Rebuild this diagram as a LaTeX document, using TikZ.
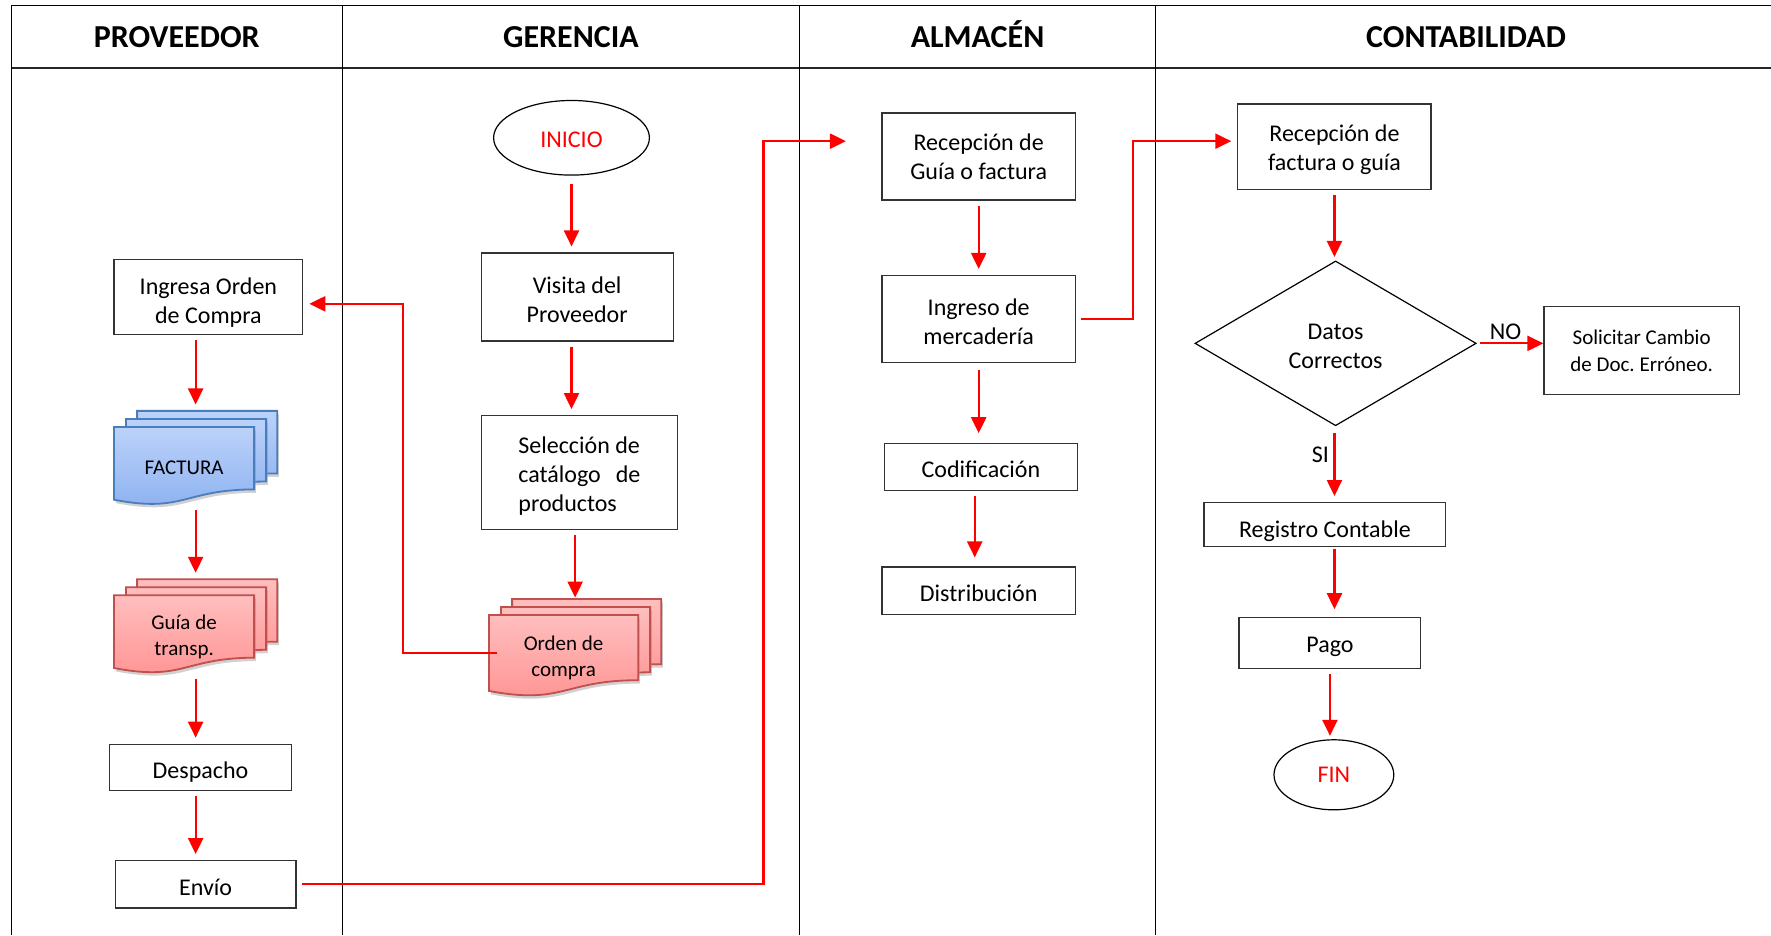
\documentclass[tikz,border=0pt]{standalone}
\usepackage{fontspec}
\setmainfont{Carlito}
\usetikzlibrary{arrows.meta,shapes.geometric,fit}
\frenchspacing

\definecolor{flowred}{RGB}{255,0,0}
\definecolor{bluline}{RGB}{74,126,187}
\definecolor{blutop}{RGB}{188,210,250}
\definecolor{blubot}{RGB}{138,176,240}
\definecolor{rosline}{RGB}{192,80,77}
\definecolor{rostop}{RGB}{255,190,190}
\definecolor{rosbot}{RGB}{255,146,146}

% outline of a single document sheet with a wavy lower edge
\newcommand\docpath[4]{({#1},{#2}) -- ({#1+#3},{#2}) -- ({#1+#3},{#2+0.802*#4})
  .. controls ({#1+0.5*#3},{#2+0.802*#4}) and ({#1+0.5*#3},{#2+1.108*#4}) .. ({#1},{#2+0.934*#4}) -- cycle}

% stack of three sheets: name, x, y (front sheet top-left), width, height, colour prefix, text
\newcommand\docstack[7]{%
  \foreach \dx/\dy in {20.4/14.2,10.6/7,0/0}{%
    \fill[black!40,opacity=.45] \docpath{#2+\dx+1.5}{#3-\dy+3}{#4}{#5};
    \path[draw=#6line,line width=.9pt,top color=#6top,bottom color=#6bot] \docpath{#2+\dx}{#3-\dy}{#4}{#5};
  }
  \node[fit={({#2},{#3-14.2}) ({#2+#4+20.4},{#3+#5})},inner sep=0pt] (#1) {};
  \node[doctext] (#1-text) at ({#2+0.5*#4},{#3+0.5*#5+2}) {#7};
}

% a strut at the start of a label lowers the text a little inside its frame
\newcommand\lowerby[1]{\rule{0pt}{#1}}

\tikzset{
  lane/.style={draw=black,line width=0.7pt},
  head/.style={anchor=base,font=\fontsize{16}{19}\selectfont\bfseries},
  box/.style={draw=black!80,line width=0.6pt,align=center,inner sep=0pt,
    font=\fontsize{12}{14.6}\selectfont,execute at begin node={\lowerby{11pt}}},
  term/.style={ellipse,draw=black,line width=0.6pt,inner sep=0pt,text=flowred,
    font=\fontsize{12}{14.6}\selectfont},
  decision/.style={diamond,draw=black,line width=0.6pt,inner sep=0pt,align=center,
    font=\fontsize{12}{14.6}\selectfont},
  doctext/.style={align=center,inner sep=0pt,font=\fontsize{10.5}{13}\selectfont},
  lbl/.style={inner sep=0pt,font=\fontsize{12}{14.6}\selectfont},
  arr/.style={draw=flowred,line width=1.1pt,-{Triangle[length=8pt,width=7.5pt]},
    shorten <=2.5pt,shorten >=3pt},
}

\begin{document}
\begin{tikzpicture}[x=0.5647pt,y=-0.5647pt]
\useasboundingbox (0,0) rectangle (1568,828);
\fill[white] (0,0) rectangle (1568,828);

% lanes and header row
\draw[lane] (10,5) -- (1568,5);
\draw[lane,line width=1.1pt,draw=black!85] (10,60) -- (1568,60);
\foreach \lx in {10,303,708,1023} \draw[lane] (\lx,5) -- (\lx,828);
\node[head] (hprov) at (156.5,42.5) {PROVEEDOR};
\node[head] (hger)  at (505.5,42.5) {GERENCIA};
\node[head] (halm)  at (865.5,42.5) {ALMACÉN};
\node[head] (hcont) at (1298,42.5) {CONTABILIDAD};

% PROVEEDOR
\node[box,minimum width=94.3pt,minimum height=37.3pt] (ingresa) at (184.5,263) {\lowerby{13.5pt}Ingresa Orden\\de Compra};
\docstack{factura}{101}{378}{124}{69}{blu}{FACTURA}
\docstack{guia}{101}{527}{124}{69}{ros}{Guía de\\transp.}
\node[box,minimum width=90.9pt,minimum height=23.2pt,execute at begin node={\lowerby{12.8pt}}] (despacho) at (177.5,679.5) {Despacho};
\node[box,minimum width=90.4pt,minimum height=23.7pt] (envio) at (182,783) {Envío};

% GERENCIA
\node[term,minimum width=77.9pt,minimum height=37.3pt,execute at begin node={\lowerby{10pt}}] (inicio) at (506,122) {INICIO};
\node[box,minimum width=96pt,minimum height=44pt] (visita) at (511,263) {\lowerby{11pt}Visita del\\Proveedor};
\node[box,minimum width=98.3pt,minimum height=57pt,align=left] (seleccion) at (513,418.5)
  {\lowerby{12pt}Selección de\\\makebox[61pt][s]{catálogo de}\\productos};
\docstack{orden}{433}{544.5}{132}{72}{ros}{Orden de\\compra}

% ALMACÉN
\node[box,minimum width=96.6pt,minimum height=43.5pt] (recep1) at (866.5,138.5) {Recepción de\\Guía o factura};
\node[box,minimum width=96.6pt,minimum height=43.5pt] (ingreso) at (866.5,282.5) {\lowerby{11pt}Ingreso de\\mercadería};
\node[box,minimum width=96.6pt,minimum height=23.2pt] (codif) at (868.5,413.5) {Codificación};
\node[box,minimum width=96.6pt,minimum height=23.7pt] (distrib) at (866.5,523) {Distribución};

% CONTABILIDAD
\node[box,minimum width=96.6pt,minimum height=42.9pt] (recep2) at (1181.5,130) {\lowerby{11pt}Recepción de\\factura o guía};
\node[decision,minimum width=140.6pt,minimum height=82.4pt] (datos) at (1182.5,304) {\lowerby{10.5pt}Datos\\Correctos};
\node[box,minimum width=97.7pt,minimum height=44pt,font=\fontsize{10.5}{13.5}\selectfont] (solicitar) at (1453.5,310)
  {\lowerby{8pt}Solicitar Cambio\\de Doc. Erróneo.};
\node[box,minimum width=120.8pt,minimum height=22pt,execute at begin node={\lowerby{15pt}}] (registro) at (1173,464.5) {Registro Contable};
\node[box,minimum width=90.9pt,minimum height=25.4pt] (pago) at (1177.5,569.5) {Pago};
\node[term,minimum width=59.9pt,minimum height=35pt] (fin) at (1181,686) {FIN};

% bends and loose ends of the cross-lane connectors
\coordinate (j1) at (676,125);
\coordinate (j1e) at (749,125);
\coordinate (j2) at (357,269);
\coordinate (j3) at (1003,125);
\coordinate (c1) at ([xshift=-3.1pt]codif.south);

% connectors, PROVEEDOR
\draw[arr] (ingresa.south -| factura.north) -- (factura.north);
\draw[arr] (factura.south) -- (guia.north);
\draw[arr] (guia.south) -- (guia.south |- despacho.north);
\draw[arr] (despacho.south -| guia.south) -- (guia.south |- envio.north);
\draw[arr,shorten >=0pt] (envio.east) -| (j1) -- (j1e);

% connectors, GERENCIA
\draw[arr,shorten <=4pt] (inicio.south) -- (inicio.south |- visita.north);
\draw[arr] (visita.south -| inicio.south) -- (inicio.south |- seleccion.north);
\draw[arr,shorten >=0.5pt] (seleccion.south -| orden.north) -- (orden.north);
\draw[arr,shorten <=0pt] ([shift={(7,5)}]orden.west) -| (j2) -- (ingresa.east |- j2);

% connectors, ALMACÉN
\draw[arr] (recep1.south) -- (recep1.south |- ingreso.north);
\draw[arr] (ingreso.east) -| (j3) -- (recep2.west |- j3);
\draw[arr,shorten <=3.4pt,shorten >=5pt] (ingreso.south) -- (ingreso.south |- codif.north);
\draw[arr,shorten >=4.5pt] (c1) -- (c1 |- distrib.north);

% connectors, CONTABILIDAD
\draw[arr,shorten >=1.7pt] (recep2.south) -- (recep2.south |- datos.north);
\draw[arr,shorten <=1.7pt,shorten >=0pt] (datos.east) -- (solicitar.west |- datos.east);
\draw[arr,shorten <=3.4pt] (datos.south -| recep2.south) -- (recep2.south |- registro.north);
\draw[arr,shorten <=1pt,shorten >=4pt] (registro.south -| recep2.south) -- (recep2.south |- pago.north);
\draw[arr,shorten >=1.7pt] (pago.south) -- (pago.south |- fin.north);

% branch labels
\node[lbl] (lno) at (1333,294) {NO};
\node[lbl] (lsi) at (1169,403) {SI};
\end{tikzpicture}
\end{document}
